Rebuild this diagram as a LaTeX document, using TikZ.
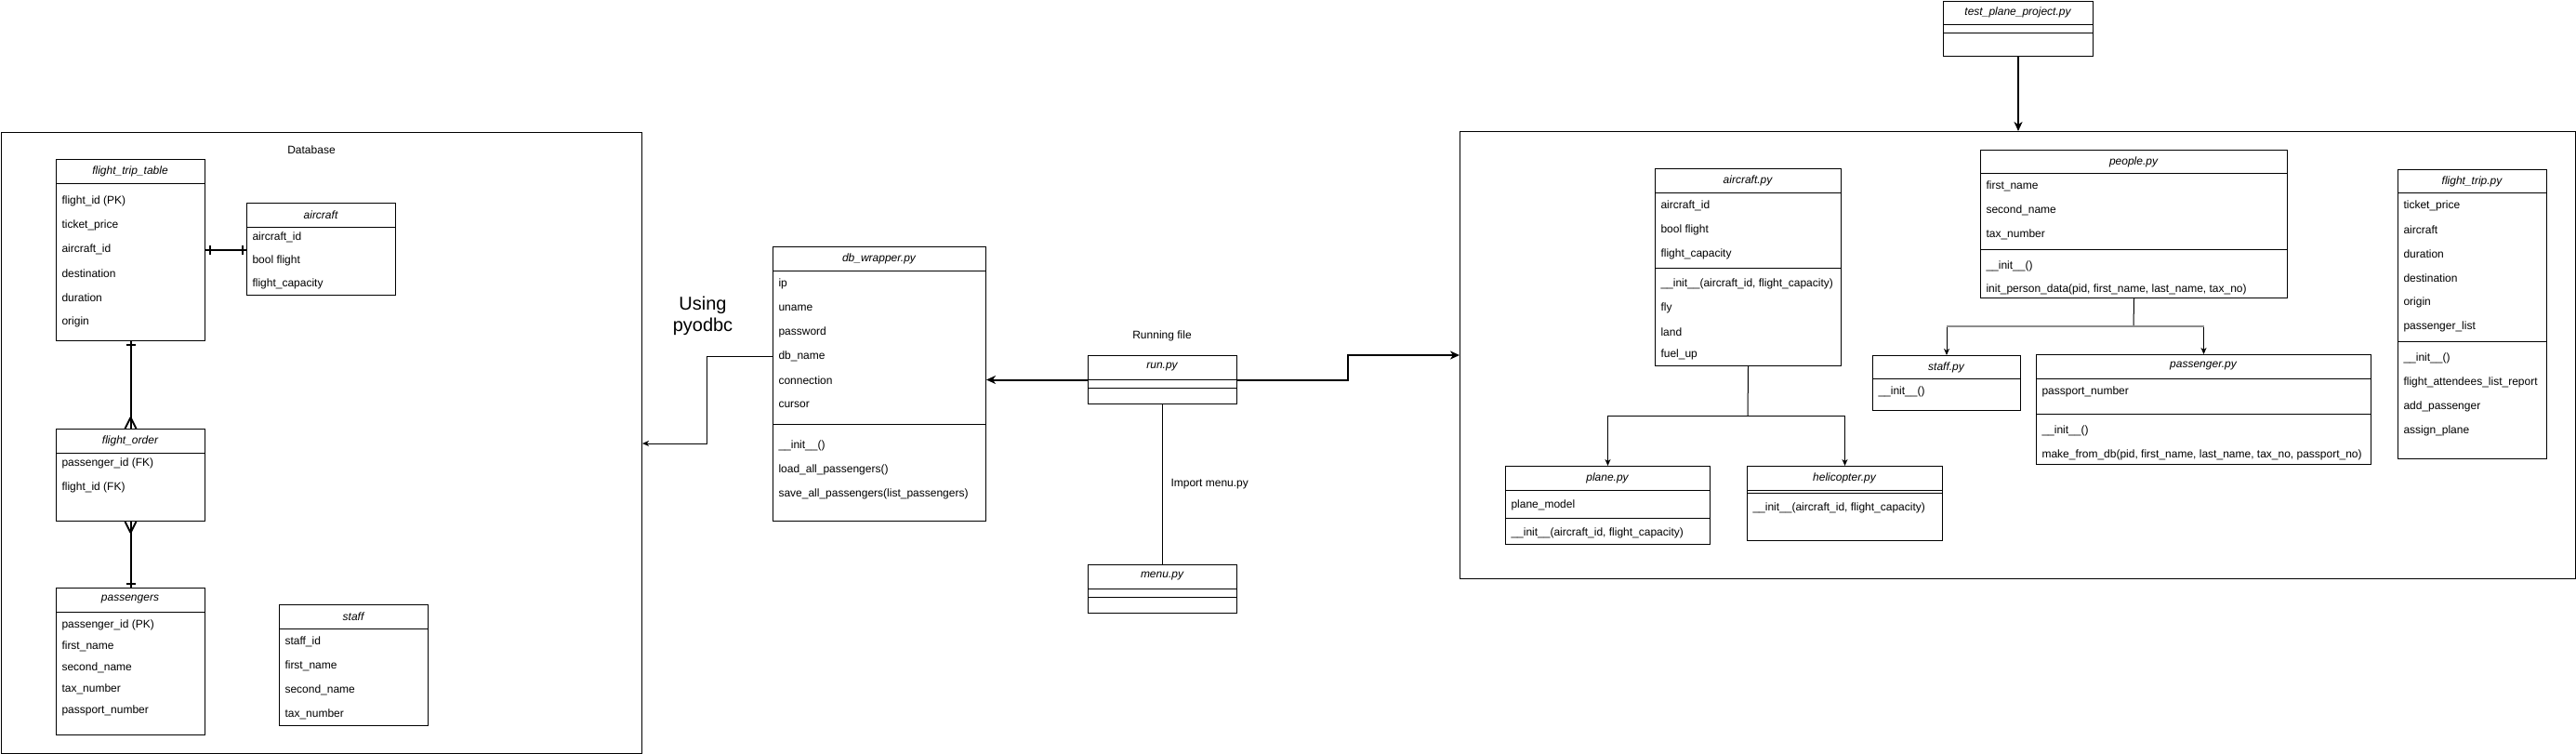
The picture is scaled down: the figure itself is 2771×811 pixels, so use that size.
\documentclass[tikz,border=0pt]{standalone}
\usepackage{fontspec}
\setmainfont{Liberation Sans}
\usetikzlibrary{arrows.meta}

\tikzset{
  classbox/.style={draw, anchor=north west, inner sep=0pt},
  groupframe/.style={draw, anchor=north west, inner sep=0pt},
  headtext/.style={font=\itshape, inner sep=0pt},
  rowtext/.style={anchor=west, inner sep=0pt},
  conn/.style={-{Stealth[length=7pt,width=6pt,inset=2pt]}},
  thickconn/.style={line width=2pt, -{Stealth[length=10pt,width=9pt,inset=3pt]}},
  erline/.style={line width=2pt}
}

\begin{document}
\fontsize{12}{14}\selectfont
\begin{tikzpicture}[x=1pt, y=-1pt, line width=1pt]
\useasboundingbox (0,0) rectangle (2771,811);

% database
\node[groupframe, minimum width=689.5pt, minimum height=668pt] (db) at (0.5,142) {};
\node (dblabel) at (335,161) {Database};

\node[classbox, minimum width=160pt, minimum height=195pt] (ftt) at (60,171) {};
\node[headtext] (ftt-t) at (140,184) {flight\_trip\_table};
\draw ([yshift=-26pt]ftt.north west) -- ([yshift=-26pt]ftt.north east);
\foreach \y/\txt [count=\i] in {216/flight\_id (PK), 242/ticket\_price, 268/aircraft\_id,
    294/destination, 320/duration, 346/origin}
  \node[rowtext] (ftt-\i) at (66,\y) {\txt};

\node[classbox, minimum width=160pt, minimum height=99pt] (dbac) at (265,218) {};
\node[headtext] (dbac-t) at (345,231) {aircraft};
\draw ([yshift=-26pt]dbac.north west) -- ([yshift=-26pt]dbac.north east);
\foreach \y/\txt [count=\i] in {255/aircraft\_id, 280/bool flight, 305/flight\_capacity}
  \node[rowtext] (dbac-\i) at (271,\y) {\txt};

\node[classbox, minimum width=160pt, minimum height=99pt] (fo) at (60,461) {};
\node[headtext] (fo-t) at (140,474) {flight\_order};
\draw ([yshift=-26pt]fo.north west) -- ([yshift=-26pt]fo.north east);
\foreach \y/\txt [count=\i] in {498/passenger\_id (FK), 524/flight\_id (FK)}
  \node[rowtext] (fo-\i) at (66,\y) {\txt};

\node[classbox, minimum width=160pt, minimum height=158pt] (pas) at (60,632) {};
\node[headtext] (pas-t) at (140,645) {passengers};
\draw ([yshift=-26pt]pas.north west) -- ([yshift=-26pt]pas.north east);
\foreach \y/\txt [count=\i] in {672/passenger\_id (PK), 695/first\_name, 718/second\_name,
    741/tax\_number, 764/passport\_number}
  \node[rowtext] (pas-\i) at (66,\y) {\txt};

\node[classbox, minimum width=160pt, minimum height=130pt] (dbst) at (300,650) {};
\node[headtext] (dbst-t) at (380,663) {staff};
\draw ([yshift=-26pt]dbst.north west) -- ([yshift=-26pt]dbst.north east);
\foreach \y/\txt [count=\i] in {690/staff\_id, 716/first\_name, 742/second\_name, 768/tax\_number}
  \node[rowtext] (dbst-\i) at (306,\y) {\txt};

% relations
\coordinate (erA) at (ftt.east -| dbac.west);
\draw[erline] (ftt.east) -- (erA);
\draw[erline] ([xshift=5pt]ftt.east) ++(0,-5) -- ++(0,10);
\draw[erline] ([xshift=-4pt]erA) ++(0,-5) -- ++(0,10);
\draw[erline] (ftt.south) -- (fo.north);
\draw[erline] ([yshift=-4pt]ftt.south) ++(-5,0) -- ++(10,0);
\draw[erline] ([yshift=12pt]fo.north) -- ++(-6,12) ([yshift=12pt]fo.north) -- ++(6,12);
\draw[erline] (fo.south) -- (pas.north);
\draw[erline] ([yshift=-12pt]fo.south) -- ++(-6,-12) ([yshift=-12pt]fo.south) -- ++(6,-12);
\draw[erline] ([yshift=4pt]pas.north) ++(-5,0) -- ++(10,0);

% wrapper and run
\node[classbox, minimum width=229pt, minimum height=295pt] (dbw) at (831,265) {};
\node[headtext] (dbw-t) at (945.5,278) {db\_wrapper.py};
\draw ([yshift=-26pt]dbw.north west) -- ([yshift=-26pt]dbw.north east);
\draw ([yshift=-191pt]dbw.north west) -- ([yshift=-191pt]dbw.north east);
\foreach \y/\txt [count=\i] in {305/ip, 331/uname, 357/password, 383/db\_name, 409/connection,
    435/cursor, 479/\_\_init\_\_(), 505/load\_all\_passengers(),
    531/save\_all\_passengers(list\_passengers)}
  \node[rowtext] (dbw-\i) at (837,\y) {\txt};

\node[align=center, font=\fontsize{20}{23}\selectfont] (using) at (756,340) {Using\\pyodbc};
\coordinate (pyo) at (760,477);
\draw[conn] (dbw-4 -| dbw.west) -| (pyo) -- (pyo -| db.east);

\node (runlabel) at (1250,361) {Running file};
\node[classbox, minimum width=160pt, minimum height=52pt] (run) at (1170,382) {};
\node[headtext] (run-t) at (1250,395) {run.py};
\draw ([yshift=-26pt]run.north west) -- ([yshift=-26pt]run.north east);
\draw ([yshift=-35pt]run.north west) -- ([yshift=-35pt]run.north east);

\node[classbox, minimum width=160pt, minimum height=52pt] (menu) at (1170,607) {};
\node[headtext] (menu-t) at (1250,620) {menu.py};
\draw ([yshift=-26pt]menu.north west) -- ([yshift=-26pt]menu.north east);
\draw ([yshift=-35pt]menu.north west) -- ([yshift=-35pt]menu.north east);

\draw (run.south) -- (menu.north);
\node[rowtext] (imp) at (1259,521) {Import menu.py};

\draw[thickconn] (run.west) -- (run.west -| dbw.east);
\coordinate (runbend) at (1450,382);

% modules
\node[groupframe, minimum width=1200pt, minimum height=481pt] (mods) at (1570,141) {};
\draw[thickconn] (run.east) -| (runbend) -- (runbend -| mods.west);

\node[classbox, minimum width=161pt, minimum height=59.5pt] (tpp) at (2090,0.5) {};
\node[headtext] (tpp-t) at (2170.5,13) {test\_plane\_project.py};
\draw ([yshift=-26pt]tpp.north west) -- ([yshift=-26pt]tpp.north east);
\draw ([yshift=-35pt]tpp.north west) -- ([yshift=-35pt]tpp.north east);
\draw[thickconn] (tpp.south) -- (tpp.south |- mods.north);

\node[classbox, minimum width=200pt, minimum height=212pt] (acpy) at (1780,181) {};
\node[headtext] (acpy-t) at (1880,194) {aircraft.py};
\draw ([yshift=-26pt]acpy.north west) -- ([yshift=-26pt]acpy.north east);
\draw ([yshift=-107pt]acpy.north west) -- ([yshift=-107pt]acpy.north east);
\foreach \y/\txt [count=\i] in {221/aircraft\_id, 247/bool flight, 273/flight\_capacity,
    305/{\_\_init\_\_(aircraft\_id, flight\_capacity)}, 331/fly, 357/land, 381/fuel\_up}
  \node[rowtext] (acpy-\i) at (1786,\y) {\txt};

\node[classbox, minimum width=330pt, minimum height=159pt] (people) at (2130,161) {};
\node[headtext] (people-t) at (2295,174) {people.py};
\draw ([yshift=-25pt]people.north west) -- ([yshift=-25pt]people.north east);
\draw ([yshift=-107pt]people.north west) -- ([yshift=-107pt]people.north east);
\foreach \y/\txt [count=\i] in {200/first\_name, 226/second\_name, 252/tax\_number,
    286/\_\_init\_\_(), 311/{init\_person\_data(pid, first\_name, last\_name, tax\_no)}}
  \node[rowtext] (people-\i) at (2136,\y) {\txt};

\node[classbox, minimum width=159pt, minimum height=59pt] (staffpy) at (2014,382) {};
\node[headtext] (staffpy-t) at (2093.5,395) {staff.py};
\draw ([yshift=-25pt]staffpy.north west) -- ([yshift=-25pt]staffpy.north east);
\node[rowtext] (staffpy-1) at (2020,421) {\_\_init\_\_()};

\node[classbox, minimum width=360pt, minimum height=118pt] (passpy) at (2190,381) {};
\node[headtext] (passpy-t) at (2370,394) {passenger.py};
\draw ([yshift=-26pt]passpy.north west) -- ([yshift=-26pt]passpy.north east);
\draw ([yshift=-64pt]passpy.north west) -- ([yshift=-64pt]passpy.north east);
\foreach \y/\txt [count=\i] in {421/passport\_number, 463/\_\_init\_\_(),
    489/{make\_from\_db(pid, first\_name, last\_name, tax\_no, passport\_no)}}
  \node[rowtext] (passpy-\i) at (2196,\y) {\txt};

\node[classbox, minimum width=160pt, minimum height=311pt] (ftpy) at (2579,182) {};
\node[headtext] (ftpy-t) at (2659,195) {flight\_trip.py};
\draw ([yshift=-25pt]ftpy.north west) -- ([yshift=-25pt]ftpy.north east);
\draw ([yshift=-185pt]ftpy.north west) -- ([yshift=-185pt]ftpy.north east);
\foreach \y/\txt [count=\i] in {221/ticket\_price, 247/aircraft, 273/duration, 299/destination,
    325/origin, 351/passenger\_list, 385/\_\_init\_\_(), 411/flight\_attendees\_list\_report,
    437/add\_passenger, 463/assign\_plane}
  \node[rowtext] (ftpy-\i) at (2585,\y) {\txt};

\node[classbox, minimum width=220pt, minimum height=84pt] (plane) at (1619,501) {};
\node[headtext] (plane-t) at (1729,514) {plane.py};
\draw ([yshift=-26pt]plane.north west) -- ([yshift=-26pt]plane.north east);
\draw ([yshift=-56pt]plane.north west) -- ([yshift=-56pt]plane.north east);
\node[rowtext] (plane-1) at (1625,543) {plane\_model};
\node[rowtext] (plane-2) at (1625,573) {\_\_init\_\_(aircraft\_id, flight\_capacity)};

\node[classbox, minimum width=210pt, minimum height=80pt] (heli) at (1879,501) {};
\node[headtext] (heli-t) at (1984,514) {helicopter.py};
\draw ([yshift=-26pt]heli.north west) -- ([yshift=-26pt]heli.north east);
\draw ([yshift=-29pt]heli.north west) -- ([yshift=-29pt]heli.north east);
\node[rowtext] (heli-1) at (1885,546) {\_\_init\_\_(aircraft\_id, flight\_capacity)};

% inheritance
\coordinate (acjoin) at (1880,447);
\draw (acpy.south) -- (acjoin);
\draw[conn] (acjoin) -| (plane.north);
\draw[conn] (acjoin) -| (heli.north);

\coordinate (pjoin) at (2295,351);
\draw (people.south) -- (pjoin);
\draw[conn] (pjoin) -| (staffpy.north);
\draw[conn] (pjoin) -| (passpy.north);
\draw[line width=2pt, black!45] (pjoin -| staffpy.north) -- (pjoin -| passpy.north);
\end{tikzpicture}
\end{document}
